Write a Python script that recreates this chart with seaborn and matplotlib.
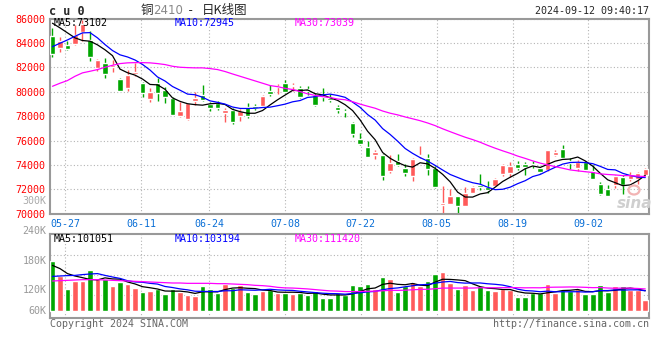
import numpy as np
import pandas as pd
import matplotlib
matplotlib.use("Agg")
import matplotlib.pyplot as plt
from matplotlib.patches import Ellipse
import seaborn as sns

# ---- data (05-23 .. 09-12) ----
opens = [84551, 83595, 83868, 83950, 84907, 84224, 81955, 82365, 82064, 81053,
         80343, 81463, 80753, 79413, 80698, 80151, 79523, 78047, 77746, 79277,
         79742, 78976, 79058, 78266, 78512, 78047, 78758, 78840, 78813, 80097,
         80370, 80698, 80507, 80288, 80233, 79769, 79660, 79496, 78785, 78402,
         77446, 76134, 75478, 74849, 74849, 73483, 74303, 73756, 73073, 74713,
         74576, 73756, 70750, 70832, 71433, 70668, 71706, 72390, 72171, 72307,
         73264, 73346, 74111, 74111, 74084, 73756, 73620, 74849, 75314, 74358,
         73756, 74248, 73483, 72444, 72034, 72335, 72991, 72854, 72854, 73209]
highs = [85235, 84497, 84196, 85508, 85918, 84961, 82720, 82775, 82638, 81135,
         81818, 82338, 80807, 80343, 81108, 80425, 79605, 79195, 79113, 80015,
         80561, 79195, 79222, 78676, 78676, 78621, 79086, 79031, 79769, 80589,
         80643, 80971, 80725, 80452, 80452, 79905, 80315, 79824, 78949, 78621,
         77500, 76626, 75997, 75232, 74904, 74849, 74904, 74084, 74576, 75587,
         74931, 73893, 72307, 72034, 71488, 72171, 72253, 73264, 72718, 72936,
         74084, 74248, 74358, 74248, 74358, 73838, 75232, 75260, 75669, 74576,
         74439, 74358, 74030, 72581, 72390, 73209, 73209, 73428, 73401, 73756]
lows = [82830, 83240, 83431, 83868, 84142, 82502, 81682, 81135, 81627, 80042,
        80097, 81299, 79605, 79140, 79222, 79058, 78074, 77965, 77719, 78921,
        79222, 78430, 78512, 77500, 77364, 77637, 77856, 78539, 78730, 79632,
        79824, 79905, 80097, 79496, 79714, 78813, 79277, 79168, 78266, 77938,
        76325, 75615, 74658, 74521, 72800, 73346, 73893, 73073, 72663, 74576,
        73209, 72116, 70015, 70805, 70015, 70613, 71679, 71980, 71679, 72253,
        73073, 72991, 73620, 73209, 73756, 73346, 73538, 74713, 74521, 73702,
        73483, 73483, 72854, 71570, 71461, 72116, 71651, 72663, 72444, 73155]
closes = [83130, 84142, 83513, 84634, 85590, 82857, 82638, 81490, 82228, 80069,
          81381, 81655, 79878, 80015, 79905, 79550, 78129, 78457, 79058, 79523,
          79331, 78703, 78676, 78539, 77527, 78402, 78047, 78676, 79660, 79824,
          80507, 79988, 80589, 79578, 80097, 78949, 79550, 79331, 78539, 78320,
          76544, 75724, 74685, 75068, 73073, 74166, 74030, 73346, 74494, 74849,
          73702, 72198, 70887, 71433, 70613, 71706, 72171, 72171, 71980, 72854,
          74030, 73920, 73756, 73866, 74002, 73428, 75205, 75041, 74576, 74166,
          74248, 73620, 72882, 71651, 71488, 73073, 72390, 73209, 73346, 73702]
volume_k = [248.3, 175.0, 110.0, 151.7, 148.3, 203.3, 163.3, 161.7, 125.0, 143.3,
            133.3, 113.3, 93.3, 98.3, 111.7, 83.3, 110.0, 93.3, 78.3, 75.0,
            123.3, 110.0, 91.7, 135.0, 113.3, 131.7, 96.7, 83.3, 98.3, 103.3,
            91.7, 91.7, 85.0, 91.7, 80.0, 100.0, 65.0, 65.0, 91.7, 78.3,
            128.3, 123.3, 133.3, 111.7, 168.3, 158.3, 95.0, 123.3, 143.3, 125.0,
            148.3, 183.3, 193.3, 140.0, 111.7, 130.0, 103.3, 123.3, 103.3, 98.3,
            108.3, 103.3, 70.0, 70.0, 91.7, 91.7, 133.3, 91.7, 103.3, 98.3,
            111.7, 85.0, 85.0, 128.3, 95.0, 123.3, 123.3, 103.3, 103.3, 53.3]

# moving averages before enough history exists
ma5_head = [85620, 85240, 84830, 84420]
ma10_head = [83700, 83980, 84250, 84550, 84830, 84850, 84420, 83870, 83380]
ma30_head = [80450, 80700, 80920, 81270, 81550, 81680, 81820, 82010, 82170, 82310,
             82370, 82390, 82390, 82370, 82310, 82230, 82090, 82010, 81980, 81960,
             81960, 81900, 81820, 81660, 81460, 81270, 81080, 80890, 80700]
vma5_head = [228, 212, 187, 175]
vma10_head = [173, 175, 177, 178, 182, 185, 187, 178, 170]
vma30_head = [150.0, 151.7, 153.3, 155.0, 156.7, 156.7, 156.7, 155.0, 153.3, 151.7,
              150.0, 148.3, 146.7, 145.0, 143.3, 141.7, 140.0, 140.0, 138.3, 138.3,
              138.3, 138.3, 136.7, 136.7, 135.0, 133.3, 131.7, 128.3, 126.7]

tick_idx = [2, 12, 21, 31, 41, 51, 61, 71]
tick_labels = ["05-27", "06-11", "06-24", "07-08", "07-22", "08-05", "08-19", "09-02"]
price_ticks = [70000, 72000, 74000, 76000, 78000, 80000, 82000, 84000, 86000]
vol_labels = ["240K", "180K", "120K", "60K"]

price_legend = ["MA5:73102", "MA10:72945", "MA30:73039"]
vol_legend = ["MA5:101051", "MA10:103194", "MA30:111420"]

RED, GREEN = "#ff5a5a", "#00a600"
MA_COLORS = ["black", "#0000ff", "#ff00ff"]
GRID = dict(color="#b4b4b4", lw=0.8, ls=(0, (1, 2)))


def moving_avg(values, n, head):
    s = pd.Series(values, dtype=float).rolling(n).mean()
    s.iloc[:n - 1] = head
    return s.values


df = pd.DataFrame({"open": opens, "high": highs, "low": lows, "close": closes,
                   "vol": volume_k})
df["x"] = np.arange(len(df))
df["up"] = df["close"] >= df["open"]
colors = np.where(df["up"], RED, GREEN)

sns.set_style("white")
plt.rcParams["font.family"] = ["DejaVu Sans Mono", "Noto Sans CJK SC"]

W, H = 660, 360
fig = plt.figure(figsize=(W / 100, H / 100), dpi=100)


def box(l, t, r, b):
    return [l / W, 1 - b / H, (r - l) / W, (b - t) / H]


def ftxt(x, y, s, **kw):
    kw.setdefault("fontsize", 7.2)
    kw.setdefault("va", "center")
    fig.text(x / W, 1 - y / H, s, **kw)


ax = fig.add_axes(box(50, 18.6, 649, 213.7))
axv = fig.add_axes(box(50, 234, 649, 318))

n = len(df)
x_left, x_right = -0.33, n - 0.5
# sina spreads its date grid over n-1 steps while candles use n slots
tick_pos = x_left + np.array(tick_idx) * (x_right - x_left) / (n - 1)

# ---- price panel ----
body = np.maximum((df["close"] - df["open"]).abs(), 50)
ax.vlines(df["x"], df["low"], df["high"], color=colors, lw=1, zorder=2)
ax.bar(df["x"], body, bottom=df[["open", "close"]].min(axis=1), width=0.72,
       color=colors, zorder=3)
for n_ma, head, c in zip([5, 10, 30], [ma5_head, ma10_head, ma30_head], MA_COLORS):
    sns.lineplot(x=df["x"], y=moving_avg(df["close"], n_ma, head), ax=ax,
                 color=c, lw=0.9, zorder=4, legend=False)

ax.set_xlim(x_left, x_right)
ax.set_ylim(70000, 86000)
ax.set_yticks(price_ticks)
ax.set_yticklabels([str(t) for t in price_ticks], color="red", fontsize=7.2)
ax.set_xticks(tick_pos)
ax.set_xticklabels(tick_labels, color="#0a6fd6", fontsize=7.2)
ax.tick_params(length=0, pad=3)
ax.tick_params(axis="x", pad=4)
ax.set_xlabel("")
ax.set_ylabel("")

# ---- volume panel ----
axv.bar(df["x"], df["vol"], width=0.74, color=colors, zorder=3)
for n_ma, head, c in zip([5, 10, 30], [vma5_head, vma10_head, vma30_head], MA_COLORS):
    sns.lineplot(x=df["x"], y=moving_avg(df["vol"], n_ma, head), ax=axv,
                 color=c, lw=0.9, zorder=4, legend=False)
axv.set_xlim(x_left, x_right)
axv.set_ylim(-35, 385)
axv.set_yticks([80, 180, 280])
axv.set_yticklabels([])
axv.set_xticks(tick_pos)
axv.set_xticklabels([])
axv.tick_params(length=0)
axv.set_xlabel("")
axv.set_ylabel("")

for a in (ax, axv):
    a.set_axisbelow(True)
    a.grid(True, **GRID)
    for sp in a.spines.values():
        sp.set_visible(True)
        sp.set_color("#999999")
        sp.set_linewidth(1.5)

# ---- texts ----
ftxt(49, 11.5, "c u 0", fontsize=8.5, weight="bold")
ftxt(140.5, 10.5, "铜", family=["Noto Sans CJK SC"], fontsize=9)
ftxt(153, 11, "2410", family=["DejaVu Sans"], color="#888888", fontsize=8.5)
ftxt(190.5, 11, "-", ha="center", fontsize=9)
ftxt(202, 10.5, "日K线图", family=["Noto Sans CJK SC"], fontsize=9)
ftxt(649, 11.5, "2024-09-12 09:40:17", ha="right")

for xpos, s, c in zip([54, 175, 295], price_legend, MA_COLORS):
    ftxt(xpos, 23, s, color=c)
for xpos, s, c in zip([54, 175, 295], vol_legend, MA_COLORS):
    ftxt(xpos, 239, s, color=c)

for ypos, s in zip([231, 261, 290, 311], vol_labels):
    ftxt(46.5, ypos, s, ha="right", color="#999999")
ftxt(46.5, 201, "300K", ha="right", color="#aaaaaa")

ftxt(50, 324, "Copyright 2024 SINA.COM", color="#666666")
ftxt(649, 324, "http://finance.sina.com.cn", ha="right", color="#666666")

# sina watermark: eye ring + word
fig.add_artist(Ellipse((634 / W, 1 - 190 / H), 11 / W, 9 / H, fill=False,
                       ec="#f2b4b4", lw=1.6, transform=fig.transFigure))
ftxt(635, 203, "sina", ha="center", family=["DejaVu Sans"], fontsize=11,
     style="italic", weight="bold", color="#cfcfcf")

fig.savefig("out.png", dpi=100)
